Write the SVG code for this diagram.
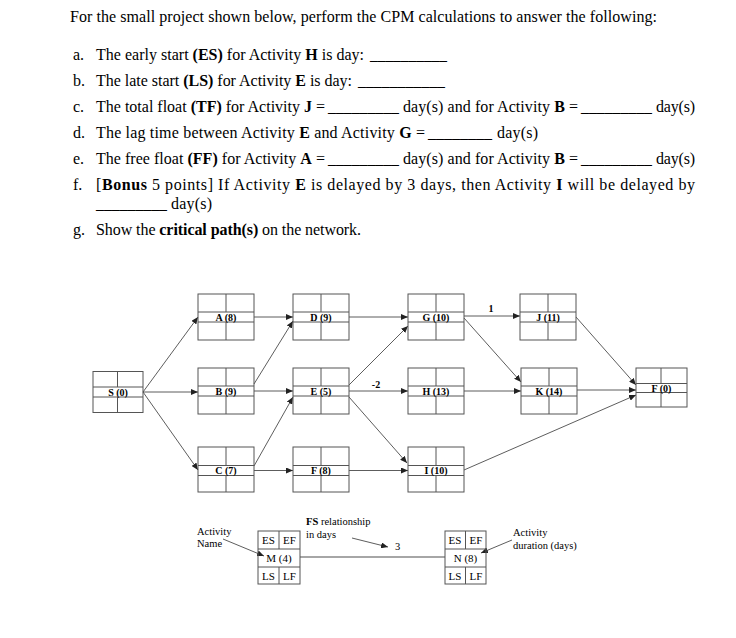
<svg xmlns="http://www.w3.org/2000/svg" width="736" height="638" viewBox="0 0 736 638">
<defs>
<style>
.q{font-family:"Liberation Serif","Times New Roman",serif;font-size:16px;fill:#000}
.b{font-weight:bold}
.box{fill:none;stroke:#555;stroke-width:1}
.lbl{font-family:"Liberation Serif","Times New Roman",serif;font-weight:bold;font-size:10px;text-anchor:middle;fill:#000}
.edge{stroke:#333;stroke-width:0.8;fill:none;marker-end:url(#ah)}
.lg{font-family:"Liberation Serif","Times New Roman",serif;font-size:10.5px;fill:#000}
.cell{font-family:"Liberation Serif","Times New Roman",serif;font-size:11px;fill:#000;text-anchor:middle}
</style>
<marker id="ah" markerUnits="userSpaceOnUse" markerWidth="7" markerHeight="6" refX="7" refY="3" orient="auto">
<path d="M0,0 L7,3 L0,6 z" fill="#222"/>
</marker>
</defs>
<rect width="736" height="638" fill="#fff"/>

<g id="questions">
<text class="q" x="70" y="22" textLength="587">For the small project shown below, perform the CPM calculations to answer the following:</text>
<text class="q" x="73" y="60">a.</text>
<text class="q" x="96" y="60" textLength="268">The early start <tspan class="b">(ES)</tspan> for Activity <tspan class="b">H</tspan> is day:</text>
<text class="q" x="370" y="60" textLength="77" lengthAdjust="spacingAndGlyphs">__________</text>
<text class="q" x="73" y="86">b.</text>
<text class="q" x="96" y="86" textLength="256">The late start <tspan class="b">(LS)</tspan> for Activity <tspan class="b">E</tspan> is day:</text>
<text class="q" x="358" y="86" textLength="87" lengthAdjust="spacingAndGlyphs">___________</text>
<text class="q" x="73" y="112">c.</text>
<text class="q" x="96" y="112" textLength="229">The total float <tspan class="b">(TF)</tspan> for Activity <tspan class="b">J</tspan> =</text>
<text class="q" x="328" y="112" textLength="71" lengthAdjust="spacingAndGlyphs">_________</text>
<text class="q" x="403" y="112" textLength="175">day(s) and for Activity <tspan class="b">B</tspan> =</text>
<text class="q" x="581" y="112" textLength="71" lengthAdjust="spacingAndGlyphs">_________</text>
<text class="q" x="656" y="112" textLength="39">day(s)</text>
<text class="q" x="73" y="138">d.</text>
<text class="q" x="96" y="138" textLength="329">The lag time between Activity <tspan class="b">E</tspan> and Activity <tspan class="b">G</tspan> =</text>
<text class="q" x="428" y="138" textLength="64" lengthAdjust="spacingAndGlyphs">________</text>
<text class="q" x="497" y="138" textLength="41">day(s)</text>
<text class="q" x="73" y="164">e.</text>
<text class="q" x="96" y="164" textLength="229">The free float <tspan class="b">(FF)</tspan> for Activity <tspan class="b">A</tspan> =</text>
<text class="q" x="328" y="164" textLength="71" lengthAdjust="spacingAndGlyphs">_________</text>
<text class="q" x="403" y="164" textLength="175">day(s) and for Activity <tspan class="b">B</tspan> =</text>
<text class="q" x="581" y="164" textLength="71" lengthAdjust="spacingAndGlyphs">_________</text>
<text class="q" x="656" y="164" textLength="39">day(s)</text>
<text class="q" x="73" y="190">f.</text>
<text class="q" x="96" y="190" textLength="599">[<tspan class="b">Bonus</tspan> 5 points] If Activity <tspan class="b">E</tspan> is delayed by 3 days, then Activity <tspan class="b">I</tspan> will be delayed by</text>
<text class="q" x="96" y="209" textLength="71" lengthAdjust="spacingAndGlyphs">_________</text>
<text class="q" x="171" y="209" textLength="41">day(s)</text>
<text class="q" x="73" y="235">g.</text>
<text class="q" x="96" y="235" textLength="265">Show the <tspan class="b">critical path(s)</tspan> on the network.</text>
</g>

<g id="connectors">
<line class="edge" x1="143" y1="392" x2="198" y2="317"/>
<line class="edge" x1="143" y1="392" x2="198" y2="392"/>
<line class="edge" x1="143" y1="392" x2="198" y2="470"/>
<line class="edge" x1="254" y1="317" x2="293" y2="317"/>
<line class="edge" x1="254" y1="384" x2="293" y2="321"/>
<line class="edge" x1="254" y1="391" x2="293" y2="391"/>
<line class="edge" x1="254" y1="466" x2="293" y2="397"/>
<line class="edge" x1="254" y1="470.5" x2="293" y2="470.5"/>
<line class="edge" x1="349" y1="317" x2="408" y2="317"/>
<line class="edge" x1="349" y1="385" x2="408" y2="326"/>
<line class="edge" x1="349" y1="391" x2="408" y2="391"/>
<line class="edge" x1="349" y1="397" x2="407" y2="463"/>
<line class="edge" x1="349" y1="470.5" x2="408" y2="470.5"/>
<line class="edge" x1="464" y1="316" x2="520" y2="316"/>
<line class="edge" x1="464" y1="318" x2="521" y2="382"/>
<line class="edge" x1="464" y1="391" x2="521" y2="391"/>
<line class="edge" x1="576" y1="317" x2="636" y2="385"/>
<line class="edge" x1="577" y1="390" x2="636" y2="390"/>
<line class="edge" x1="464" y1="470" x2="636" y2="395"/>
<text class="lbl" x="376" y="388">-2</text>
<text class="lbl" x="491" y="312">1</text>
</g>

<g id="S"><rect class="box" x="93" y="371.5" width="50" height="41"/><path class="box" d="M93 387H143M93 397H143M117.5 371.5V387M117.5 397V412.5"/><text class="lbl" x="118" y="395.5">S (0)</text></g>
<g id="A"><rect class="box" x="198" y="294" width="56" height="46"/><path class="box" d="M198 312H254M198 322H254M226 294V312M226 322V340"/><text class="lbl" x="226" y="320.5">A (8)</text></g>
<g id="D"><rect class="box" x="293" y="294" width="56" height="46"/><path class="box" d="M293 312H349M293 322H349M321 294V312M321 322V340"/><text class="lbl" x="321" y="320.5">D (9)</text></g>
<g id="G"><rect class="box" x="408" y="294" width="56" height="46"/><path class="box" d="M408 312H464M408 322H464M436 294V312M436 322V340"/><text class="lbl" x="436" y="320.5">G (10)</text></g>
<g id="J"><rect class="box" x="520" y="294" width="56" height="46"/><path class="box" d="M520 312H576M520 322H576M548 294V312M548 322V340"/><text class="lbl" x="548" y="320.5">J (11)</text></g>
<g id="B"><rect class="box" x="198" y="368" width="56" height="46"/><path class="box" d="M198 386H254M198 396H254M226 368V386M226 396V414"/><text class="lbl" x="226" y="394.5">B (9)</text></g>
<g id="E"><rect class="box" x="293" y="368" width="56" height="46"/><path class="box" d="M293 386H349M293 396H349M321 368V386M321 396V414"/><text class="lbl" x="321" y="394.5">E (5)</text></g>
<g id="H"><rect class="box" x="408" y="368" width="56" height="46"/><path class="box" d="M408 386H464M408 396H464M436 368V386M436 396V414"/><text class="lbl" x="436" y="394.5">H (13)</text></g>
<g id="K"><rect class="box" x="521" y="368" width="56" height="46"/><path class="box" d="M521 386H577M521 396H577M549 368V386M549 396V414"/><text class="lbl" x="549" y="394.5">K (14)</text></g>
<g id="F"><rect class="box" x="636" y="368" width="51" height="39"/><path class="box" d="M636 383.5H687M636 392.5H687M661 368V383.5M661 392.5V407"/><text class="lbl" x="661.5" y="391.5">F (0)</text></g>
<g id="C"><rect class="box" x="198" y="447" width="56" height="45"/><path class="box" d="M198 465.5H254M198 475.5H254M226 447V465.5M226 475.5V492"/><text class="lbl" x="226" y="474">C (7)</text></g>
<g id="F8"><rect class="box" x="293" y="447" width="56" height="45"/><path class="box" d="M293 465.5H349M293 475.5H349M321 447V465.5M321 475.5V492"/><text class="lbl" x="321" y="474">F (8)</text></g>
<g id="I"><rect class="box" x="408" y="447" width="56" height="45"/><path class="box" d="M408 465.5H464M408 475.5H464M436 447V465.5M436 475.5V492"/><text class="lbl" x="436" y="474">I (10)</text></g>

<g id="legend">
<line x1="300" y1="557" x2="445" y2="557" stroke="#888" stroke-width="1.5"/>
<text class="lg" x="197" y="535">Activity</text>
<text class="lg" x="197" y="547">Name</text>
<line class="edge" x1="223" y1="539" x2="264" y2="556"/>
<text class="lg" x="306" y="525"><tspan class="b">FS</tspan> relationship</text>
<text class="lg" x="306" y="538">in days</text>
<line class="edge" x1="352" y1="538" x2="388" y2="547"/>
<text class="lg" x="395" y="550">3</text>
<text class="lg" x="513" y="536">Activity</text>
<text class="lg" x="513" y="549">duration (days)</text>
<line class="edge" x1="512" y1="540" x2="481" y2="553"/>
</g>

<g id="M">
<rect class="box" x="258" y="531" width="42" height="53"/>
<path class="box" d="M258 549H300M258 567H300M279 531V549M279 567V584"/>
<text class="cell" x="268.5" y="544">ES</text><text class="cell" x="289.5" y="544">EF</text>
<text class="cell" x="279" y="562">M (4)</text>
<text class="cell" x="268.5" y="580">LS</text><text class="cell" x="289.5" y="580">LF</text>
</g>
<g id="N">
<rect class="box" x="445" y="531" width="41" height="53"/>
<path class="box" d="M445 549H486M445 567H486M465.5 531V549M465.5 567V584"/>
<text class="cell" x="455" y="544">ES</text><text class="cell" x="476" y="544">EF</text>
<text class="cell" x="465.5" y="562">N (8)</text>
<text class="cell" x="455" y="580">LS</text><text class="cell" x="476" y="580">LF</text>
</g>
</svg>
